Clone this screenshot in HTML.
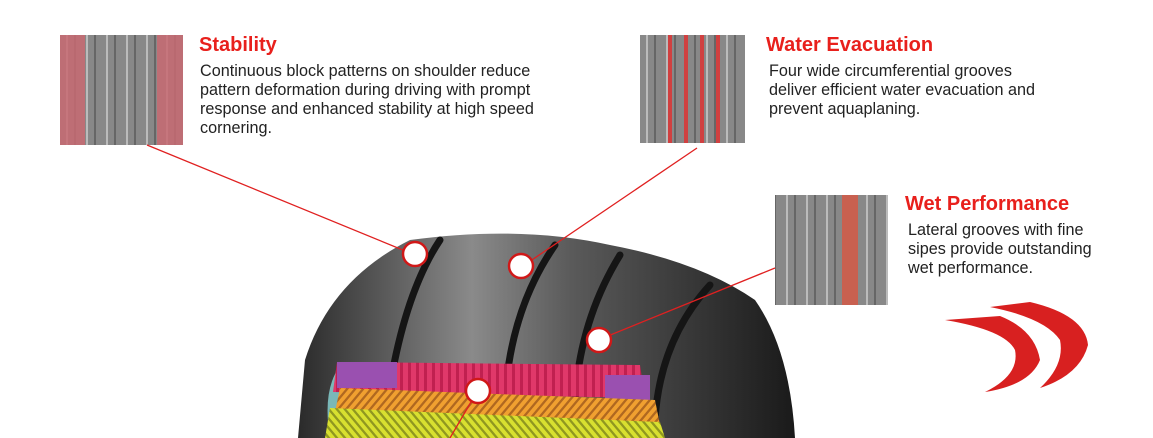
<!DOCTYPE html>
<html><head><style>
body{margin:0;width:1153px;height:438px;overflow:hidden;background:#fff;font-family:"Liberation Sans",sans-serif;position:relative}
.t{position:absolute;color:#e8201c;font-weight:bold;font-size:20px}
.d{position:absolute;color:#222;font-size:16.2px;line-height:19px}
</style></head><body>
<svg width="1153" height="438" style="position:absolute;left:0;top:0">
<defs>
<linearGradient id="tg" x1="0" x2="1"><stop offset="0" stop-color="#2a2a2a"/><stop offset=".35" stop-color="#8a8a8a"/><stop offset=".55" stop-color="#5a5a5a"/><stop offset="1" stop-color="#1a1a1a"/></linearGradient>
<pattern id="ph" width="8" height="8" patternUnits="userSpaceOnUse"><rect width="8" height="8" fill="#e0386a"/><rect width="3" height="8" fill="#c02050"/></pattern>
<pattern id="po" width="8" height="8" patternUnits="userSpaceOnUse" patternTransform="skewX(-40)"><rect width="8" height="8" fill="#f0a030"/><rect width="3" height="8" fill="#b06820"/></pattern>
<pattern id="py" width="8" height="8" patternUnits="userSpaceOnUse" patternTransform="skewX(40)"><rect width="8" height="8" fill="#d8e030"/><rect width="3" height="8" fill="#909820"/></pattern>
<pattern id="sw" width="20" height="8" patternUnits="userSpaceOnUse"><rect width="20" height="8" fill="#888"/><rect x="6" width="2" height="8" fill="#bbb"/><rect x="14" width="2" height="8" fill="#666"/></pattern>
</defs>
<rect x="60" y="35" width="123" height="110" fill="url(#sw)"/>
<rect x="60" y="35" width="25" height="110" fill="#c86a72" opacity=".85"/>
<rect x="157" y="35" width="26" height="110" fill="#c86a72" opacity=".85"/>
<rect x="640" y="35" width="105" height="108" fill="url(#sw)"/>
<rect x="668" y="35" width="4" height="108" fill="#d04040"/><rect x="684" y="35" width="4" height="108" fill="#d04040"/><rect x="700" y="35" width="4" height="108" fill="#d04040"/><rect x="716" y="35" width="4" height="108" fill="#d04040"/>
<rect x="775" y="195" width="113" height="110" fill="url(#sw)"/>
<rect x="842" y="195" width="16" height="110" fill="#c86050"/>
<path d="M298 438 L305 360 Q330 280 410 240 Q520 225 610 245 Q700 262 755 300 Q790 350 795 438 Z" fill="url(#tg)"/>
<g stroke="#151515" stroke-width="7" fill="none" stroke-linecap="round">
<path d="M440 240 Q400 300 385 420"/><path d="M555 245 Q510 310 505 400"/><path d="M620 255 Q580 320 575 400"/><path d="M710 285 Q660 340 655 420"/>
</g>
<path d="M330 438 Q322 390 340 366 L420 375 L420 438 Z" fill="#7ab8b8"/>
<path d="M337 362 L640 365 L645 398 L333 392 Z" fill="url(#ph)"/>
<rect x="337" y="362" width="60" height="26" fill="#9a50b0"/><rect x="605" y="375" width="45" height="26" fill="#9a50b0"/>
<path d="M340 388 L655 400 L660 425 L335 412 Z" fill="url(#po)"/>
<path d="M330 408 L660 422 L665 438 L325 438 Z" fill="url(#py)"/>
<g stroke="#e02020" stroke-width="1.3" fill="none">
<line x1="147" y1="145" x2="415" y2="255"/><line x1="697" y1="148" x2="520" y2="268"/><line x1="775" y1="268" x2="598" y2="340"/><line x1="478" y1="390" x2="450" y2="438"/>
</g>
<g fill="#fff" stroke="#d01818" stroke-width="2.5">
<circle cx="415" cy="254" r="12"/><circle cx="521" cy="266" r="12"/><circle cx="599" cy="340" r="12"/><circle cx="478" cy="391" r="12"/>
</g>
<path d="M945 320 L1000 316 Q1035 330 1040 360 Q1030 385 985 392 Q1020 375 1015 350 Q1005 330 945 320Z" fill="#d82020"/>
<path d="M990 307 L1030 302 Q1085 315 1088 345 Q1080 375 1040 388 Q1065 365 1060 340 Q1045 318 990 307Z" fill="#d82020"/>
</svg>
<div class="t" style="left:199px;top:34px">Stability</div>
<div class="d" style="left:200px;top:62px">Continuous block patterns on shoulder reduce<br>pattern deformation during driving with prompt<br>response and enhanced stability at high speed<br>cornering.</div>
<div class="t" style="left:766px;top:34px">Water Evacuation</div>
<div class="d" style="left:769px;top:62px">Four wide circumferential grooves<br>deliver efficient water evacuation and<br>prevent aquaplaning.</div>
<div class="t" style="left:905px;top:193px">Wet Performance</div>
<div class="d" style="left:908px;top:221px">Lateral grooves with fine<br>sipes provide outstanding<br>wet performance.</div>
</body></html>
